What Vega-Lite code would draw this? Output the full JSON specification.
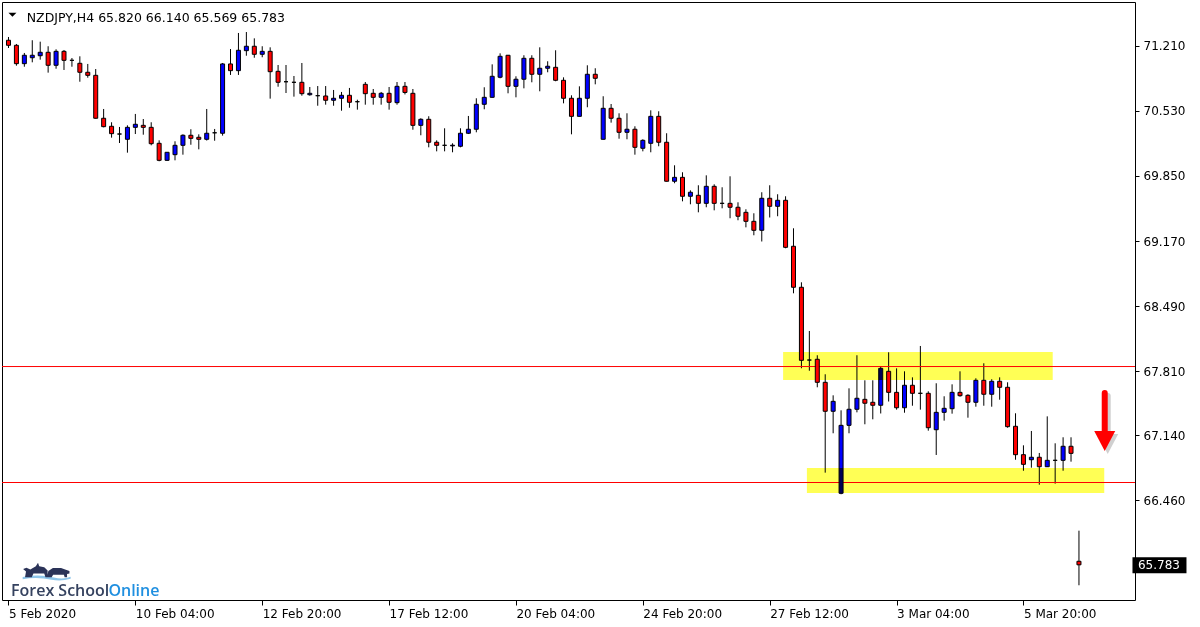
{
  "$schema": "https://vega.github.io/schema/vega-lite/v6.json",
  "width": 1133,
  "height": 598,
  "autosize": {"type": "none"},
  "padding": {"left": 2, "top": 2, "right": 65, "bottom": 27},
  "background": "white",
  "config": {"view": {"stroke": "black", "strokeWidth": 1}, "font": "DejaVu Sans"},
  "datasets": {
    "candles": [
      {"i":0,"o":71.270,"h":71.304,"l":71.189,"c":71.217},
      {"i":1,"o":71.217,"h":71.231,"l":71.004,"c":71.025},
      {"i":2,"o":71.025,"h":71.137,"l":70.993,"c":71.113},
      {"i":3,"o":71.087,"h":71.270,"l":71.039,"c":71.113},
      {"i":4,"o":71.108,"h":71.255,"l":71.067,"c":71.144},
      {"i":5,"o":71.144,"h":71.207,"l":70.931,"c":71.008},
      {"i":6,"o":71.008,"h":71.175,"l":70.972,"c":71.154},
      {"i":7,"o":71.154,"h":71.168,"l":70.959,"c":71.060},
      {"i":8,"o":71.060,"h":71.084,"l":70.993,"c":71.060},
      {"i":9,"o":71.029,"h":71.102,"l":70.836,"c":70.935},
      {"i":10,"o":70.935,"h":71.022,"l":70.878,"c":70.903},
      {"i":11,"o":70.903,"h":70.969,"l":70.450,"c":70.454},
      {"i":12,"o":70.454,"h":70.551,"l":70.359,"c":70.366},
      {"i":13,"o":70.370,"h":70.412,"l":70.251,"c":70.293},
      {"i":14,"o":70.289,"h":70.363,"l":70.195,"c":70.289},
      {"i":15,"o":70.234,"h":70.380,"l":70.094,"c":70.359},
      {"i":16,"o":70.359,"h":70.499,"l":70.289,"c":70.391},
      {"i":17,"o":70.380,"h":70.446,"l":70.282,"c":70.359},
      {"i":18,"o":70.359,"h":70.412,"l":70.171,"c":70.188},
      {"i":19,"o":70.192,"h":70.223,"l":70.004,"c":70.014},
      {"i":20,"o":70.014,"h":70.098,"l":70.009,"c":70.098},
      {"i":21,"o":70.073,"h":70.213,"l":70.014,"c":70.171},
      {"i":22,"o":70.171,"h":70.286,"l":70.073,"c":70.276},
      {"i":23,"o":70.276,"h":70.339,"l":70.177,"c":70.244},
      {"i":24,"o":70.255,"h":70.286,"l":70.129,"c":70.234},
      {"i":25,"o":70.234,"h":70.551,"l":70.221,"c":70.297},
      {"i":26,"o":70.302,"h":70.342,"l":70.219,"c":70.302},
      {"i":27,"o":70.297,"h":71.032,"l":70.272,"c":71.022},
      {"i":28,"o":71.022,"h":71.178,"l":70.907,"c":70.952},
      {"i":29,"o":70.952,"h":71.346,"l":70.907,"c":71.165},
      {"i":30,"o":71.161,"h":71.356,"l":71.108,"c":71.207},
      {"i":31,"o":71.207,"h":71.290,"l":71.087,"c":71.123},
      {"i":32,"o":71.123,"h":71.207,"l":71.092,"c":71.154},
      {"i":33,"o":71.154,"h":71.196,"l":70.659,"c":70.941},
      {"i":34,"o":70.945,"h":71.011,"l":70.784,"c":70.830},
      {"i":35,"o":70.836,"h":71.011,"l":70.718,"c":70.836},
      {"i":36,"o":70.830,"h":70.896,"l":70.680,"c":70.830},
      {"i":37,"o":70.830,"h":71.032,"l":70.690,"c":70.711},
      {"i":38,"o":70.700,"h":70.781,"l":70.690,"c":70.715},
      {"i":39,"o":70.690,"h":70.791,"l":70.585,"c":70.690},
      {"i":40,"o":70.687,"h":70.791,"l":70.596,"c":70.642},
      {"i":41,"o":70.642,"h":70.750,"l":70.585,"c":70.663},
      {"i":42,"o":70.663,"h":70.729,"l":70.533,"c":70.694},
      {"i":43,"o":70.694,"h":70.771,"l":70.564,"c":70.621},
      {"i":44,"o":70.627,"h":70.648,"l":70.544,"c":70.627},
      {"i":45,"o":70.809,"h":70.833,"l":70.596,"c":70.711},
      {"i":46,"o":70.715,"h":70.760,"l":70.596,"c":70.673},
      {"i":47,"o":70.673,"h":70.729,"l":70.596,"c":70.715},
      {"i":48,"o":70.715,"h":70.781,"l":70.544,"c":70.621},
      {"i":49,"o":70.617,"h":70.833,"l":70.596,"c":70.788},
      {"i":50,"o":70.788,"h":70.833,"l":70.703,"c":70.724},
      {"i":51,"o":70.715,"h":70.760,"l":70.334,"c":70.380},
      {"i":52,"o":70.380,"h":70.454,"l":70.276,"c":70.443},
      {"i":53,"o":70.443,"h":70.475,"l":70.150,"c":70.203},
      {"i":54,"o":70.203,"h":70.223,"l":70.108,"c":70.171},
      {"i":55,"o":70.171,"h":70.349,"l":70.108,"c":70.171},
      {"i":56,"o":70.165,"h":70.192,"l":70.098,"c":70.172},
      {"i":57,"o":70.161,"h":70.349,"l":70.150,"c":70.297},
      {"i":58,"o":70.297,"h":70.478,"l":70.289,"c":70.339},
      {"i":59,"o":70.339,"h":70.663,"l":70.307,"c":70.600},
      {"i":60,"o":70.600,"h":70.778,"l":70.548,"c":70.673},
      {"i":61,"o":70.673,"h":71.018,"l":70.671,"c":70.893},
      {"i":62,"o":70.883,"h":71.133,"l":70.872,"c":71.102},
      {"i":63,"o":71.113,"h":71.116,"l":70.715,"c":70.788},
      {"i":64,"o":70.788,"h":70.893,"l":70.673,"c":70.862},
      {"i":65,"o":70.862,"h":71.113,"l":70.767,"c":71.081},
      {"i":66,"o":71.081,"h":71.113,"l":70.830,"c":70.914},
      {"i":67,"o":70.914,"h":71.196,"l":70.736,"c":70.977},
      {"i":68,"o":70.977,"h":71.050,"l":70.935,"c":70.998},
      {"i":69,"o":70.987,"h":71.165,"l":70.841,"c":70.851},
      {"i":70,"o":70.851,"h":70.882,"l":70.610,"c":70.663},
      {"i":71,"o":70.663,"h":70.694,"l":70.286,"c":70.474},
      {"i":72,"o":70.474,"h":70.788,"l":70.472,"c":70.663},
      {"i":73,"o":70.663,"h":71.008,"l":70.569,"c":70.914},
      {"i":74,"o":70.914,"h":70.977,"l":70.809,"c":70.872},
      {"i":75,"o":70.234,"h":70.684,"l":70.232,"c":70.558},
      {"i":76,"o":70.558,"h":70.603,"l":70.408,"c":70.454},
      {"i":77,"o":70.454,"h":70.506,"l":70.240,"c":70.307},
      {"i":78,"o":70.307,"h":70.506,"l":70.234,"c":70.339},
      {"i":79,"o":70.339,"h":70.370,"l":70.073,"c":70.150},
      {"i":80,"o":70.140,"h":70.234,"l":70.108,"c":70.223},
      {"i":81,"o":70.192,"h":70.537,"l":70.098,"c":70.474},
      {"i":82,"o":70.474,"h":70.527,"l":70.161,"c":70.203},
      {"i":83,"o":70.203,"h":70.297,"l":69.793,"c":69.795},
      {"i":84,"o":69.795,"h":69.962,"l":69.774,"c":69.836},
      {"i":85,"o":69.836,"h":69.889,"l":69.585,"c":69.638},
      {"i":86,"o":69.638,"h":69.700,"l":69.554,"c":69.680},
      {"i":87,"o":69.648,"h":69.753,"l":69.470,"c":69.564},
      {"i":88,"o":69.564,"h":69.857,"l":69.523,"c":69.742},
      {"i":89,"o":69.742,"h":69.763,"l":69.491,"c":69.564},
      {"i":90,"o":69.564,"h":69.732,"l":69.512,"c":69.564},
      {"i":91,"o":69.564,"h":69.847,"l":69.408,"c":69.523},
      {"i":92,"o":69.523,"h":69.575,"l":69.387,"c":69.429},
      {"i":93,"o":69.470,"h":69.502,"l":69.313,"c":69.376},
      {"i":94,"o":69.376,"h":69.460,"l":69.230,"c":69.282},
      {"i":95,"o":69.282,"h":69.680,"l":69.165,"c":69.617},
      {"i":96,"o":69.617,"h":69.753,"l":69.416,"c":69.533},
      {"i":97,"o":69.533,"h":69.659,"l":69.429,"c":69.596},
      {"i":98,"o":69.596,"h":69.638,"l":69.094,"c":69.104},
      {"i":99,"o":69.115,"h":69.303,"l":68.623,"c":68.686},
      {"i":100,"o":68.686,"h":68.738,"l":67.839,"c":67.922},
      {"i":101,"o":67.925,"h":68.229,"l":67.813,"c":67.925},
      {"i":102,"o":67.933,"h":67.975,"l":67.640,"c":67.692},
      {"i":103,"o":67.692,"h":67.776,"l":66.747,"c":67.389},
      {"i":104,"o":67.389,"h":67.556,"l":67.159,"c":67.493},
      {"i":105,"o":66.531,"h":67.399,"l":66.521,"c":67.242},
      {"i":106,"o":67.242,"h":67.629,"l":67.159,"c":67.410},
      {"i":107,"o":67.410,"h":67.975,"l":67.378,"c":67.525},
      {"i":108,"o":67.514,"h":67.713,"l":67.253,"c":67.473},
      {"i":109,"o":67.483,"h":67.713,"l":67.305,"c":67.452},
      {"i":110,"o":67.452,"h":67.859,"l":67.366,"c":67.838},
      {"i":111,"o":67.807,"h":68.006,"l":67.491,"c":67.587},
      {"i":112,"o":67.587,"h":67.838,"l":67.406,"c":67.426},
      {"i":113,"o":67.426,"h":67.807,"l":67.374,"c":67.661},
      {"i":114,"o":67.661,"h":67.744,"l":67.447,"c":67.577},
      {"i":115,"o":67.577,"h":68.072,"l":67.406,"c":67.577},
      {"i":116,"o":67.577,"h":67.598,"l":67.186,"c":67.217},
      {"i":117,"o":67.196,"h":67.682,"l":66.932,"c":67.378},
      {"i":118,"o":67.378,"h":67.546,"l":67.291,"c":67.420},
      {"i":119,"o":67.416,"h":67.671,"l":67.364,"c":67.587},
      {"i":120,"o":67.587,"h":67.807,"l":67.541,"c":67.552},
      {"i":121,"o":67.556,"h":67.567,"l":67.322,"c":67.483},
      {"i":122,"o":67.483,"h":67.734,"l":67.437,"c":67.713},
      {"i":123,"o":67.713,"h":67.891,"l":67.447,"c":67.567},
      {"i":124,"o":67.567,"h":67.724,"l":67.437,"c":67.703},
      {"i":125,"o":67.703,"h":67.744,"l":67.510,"c":67.640},
      {"i":126,"o":67.640,"h":67.692,"l":67.217,"c":67.228},
      {"i":127,"o":67.232,"h":67.368,"l":66.882,"c":66.935},
      {"i":128,"o":66.935,"h":67.033,"l":66.767,"c":66.834},
      {"i":129,"o":66.882,"h":67.183,"l":66.799,"c":66.908},
      {"i":130,"o":66.908,"h":66.953,"l":66.621,"c":66.809},
      {"i":131,"o":66.809,"h":67.336,"l":66.806,"c":66.876},
      {"i":132,"o":66.876,"h":67.054,"l":66.632,"c":66.876},
      {"i":133,"o":66.876,"h":67.117,"l":66.767,"c":67.023},
      {"i":134,"o":67.023,"h":67.117,"l":66.862,"c":66.949},
      {"i":135,"o":65.820,"h":66.140,"l":65.569,"c":65.783}
    ],
    "zones": [
      {"x1":97.69,"x2":131.69,"lo":67.716,"hi":68.009},
      {"x1":100.69,"x2":138.19,"lo":66.534,"hi":66.796}
    ],
    "levels": [{"p":67.857},{"p":66.644}],
    "one": [{}]
  },
  "layer": [
    {
      "data": {"name": "candles"},
      "mark": {"type": "rule", "color": "#000000", "strokeWidth": 1},
      "encoding": {
        "x": {"field": "i", "type": "quantitative", "title": null, "scale": {"domain": [-0.1875, 141.4375], "nice": false, "zero": false},
          "axis": {"orient": "bottom", "title": null, "grid": false, "domain": false,
            "values": [0,16,32,48,64,80,96,112,128],
            "labelExpr": "datum.value == 0 ? '5 Feb 2020' : datum.value == 16 ? '10 Feb 04:00' : datum.value == 32 ? '12 Feb 20:00' : datum.value == 48 ? '17 Feb 12:00' : datum.value == 64 ? '20 Feb 04:00' : datum.value == 80 ? '24 Feb 20:00' : datum.value == 96 ? '27 Feb 12:00' : datum.value == 112 ? '3 Mar 04:00' : '5 Mar 20:00'",
            "labelAlign": "left", "labelBaseline": "top", "labelFont": "DejaVu Sans", "labelFontSize": 12, "labelColor": "#000000",
            "tickColor": "#000000", "tickSize": 5, "labelPadding": 3, "labelFlush": false, "labelOverlap": false, "labelBound": false}},
        "y": {"field": "l", "type": "quantitative", "title": null, "scale": {"domain": [65.415, 71.67], "nice": false, "zero": false},
          "axis": {"orient": "right", "title": null, "grid": false, "domain": false,
            "values": [66.46, 67.14, 67.81, 68.49, 69.17, 69.85, 70.53, 71.21],
            "format": ".3f", "labelFont": "DejaVu Sans", "labelFontSize": 12, "labelColor": "#000000",
            "tickColor": "#000000", "tickSize": 4, "labelPadding": 4, "labelBaseline": "middle", "labelFlush": false, "labelOverlap": false}},
        "y2": {"field": "h"}
      }
    },
    {
      "data": {"name": "levels"},
      "mark": {"type": "rule", "color": "#ff0000", "strokeWidth": 1},
      "encoding": {
        "y": {"field": "p", "type": "quantitative", "title": null, "scale": {"domain": [65.415, 71.67], "nice": false, "zero": false}}
      }
    },
    {
      "data": {"name": "candles"},
      "mark": {"type": "bar", "width": 4, "stroke": "#000000", "strokeWidth": 1},
      "encoding": {
        "x": {"field": "i", "type": "quantitative", "title": null, "scale": {"domain": [-0.1875, 141.4375], "nice": false, "zero": false}},
        "y": {"field": "o", "type": "quantitative", "title": null, "scale": {"domain": [65.415, 71.67], "nice": false, "zero": false}},
        "y2": {"field": "c"},
        "fill": {"condition": [{"test": "datum.c > datum.o", "value": "#0000ff"}, {"test": "datum.c < datum.o", "value": "#ff0000"}], "value": "#000000"}
      }
    },
    {
      "data": {"name": "zones"},
      "mark": {"type": "rect", "fill": "#ffff55", "blend": "multiply"},
      "encoding": {
        "x": {"field": "x1", "type": "quantitative", "title": null, "scale": {"domain": [-0.1875, 141.4375], "nice": false, "zero": false}},
        "x2": {"field": "x2"},
        "y": {"field": "lo", "type": "quantitative", "title": null, "scale": {"domain": [65.415, 71.67], "nice": false, "zero": false}},
        "y2": {"field": "hi"}
      }
    },
    {
      "data": {"name": "one"},
      "mark": {"type": "rule", "color": "#b0b0b0", "strokeWidth": 6, "strokeCap": "round", "opacity": 0.6, "xOffset": 3, "yOffset": 3},
      "encoding": {
        "x": {"datum": 138.25, "type": "quantitative", "title": null, "scale": {"domain": [-0.1875, 141.4375], "nice": false, "zero": false}},
        "y": {"datum": 67.58, "type": "quantitative", "title": null, "scale": {"domain": [65.415, 71.67], "nice": false, "zero": false}},
        "y2": {"datum": 67.17}
      }
    },
    {
      "data": {"name": "one"},
      "mark": {"type": "point", "shape": "M-1,-0.95L1,-0.95L0,0.95Z", "size": 441, "filled": true, "color": "#b0b0b0", "opacity": 0.6, "xOffset": 3, "yOffset": 3},
      "encoding": {
        "x": {"datum": 138.25, "type": "quantitative", "title": null, "scale": {"domain": [-0.1875, 141.4375], "nice": false, "zero": false}},
        "y": {"datum": 67.078, "type": "quantitative", "title": null, "scale": {"domain": [65.415, 71.67], "nice": false, "zero": false}}
      }
    },
    {
      "data": {"name": "one"},
      "mark": {"type": "rule", "color": "#ff0000", "strokeWidth": 6, "strokeCap": "round"},
      "encoding": {
        "x": {"datum": 138.25, "type": "quantitative", "title": null, "scale": {"domain": [-0.1875, 141.4375], "nice": false, "zero": false}},
        "y": {"datum": 67.58, "type": "quantitative", "title": null, "scale": {"domain": [65.415, 71.67], "nice": false, "zero": false}},
        "y2": {"datum": 67.17}
      }
    },
    {
      "data": {"name": "one"},
      "mark": {"type": "point", "shape": "M-1,-0.95L1,-0.95L0,0.95Z", "size": 441, "filled": true, "color": "#ff0000", "opacity": 1},
      "encoding": {
        "x": {"datum": 138.25, "type": "quantitative", "title": null, "scale": {"domain": [-0.1875, 141.4375], "nice": false, "zero": false}},
        "y": {"datum": 67.078, "type": "quantitative", "title": null, "scale": {"domain": [65.415, 71.67], "nice": false, "zero": false}}
      }
    },
    {
      "data": {"name": "one"},
      "mark": {"type": "point", "shape": "M-1,-0.5L1,-0.5L0,0.5Z", "size": 64, "filled": true, "color": "#000000", "opacity": 1},
      "encoding": {
        "x": {"datum": 0.5, "type": "quantitative", "title": null, "scale": {"domain": [-0.1875, 141.4375], "nice": false, "zero": false}},
        "y": {"datum": 71.537, "type": "quantitative", "title": null, "scale": {"domain": [65.415, 71.67], "nice": false, "zero": false}}
      }
    },
    {
      "data": {"name": "one"},
      "mark": {"type": "text", "text": "NZDJPY,H4  65.820 66.140 65.569 65.783", "align": "left", "baseline": "alphabetic", "font": "DejaVu Sans", "fontSize": 12.5, "color": "#000000"},
      "encoding": {
        "x": {"datum": 2.3, "type": "quantitative", "title": null, "scale": {"domain": [-0.1875, 141.4375], "nice": false, "zero": false}},
        "y": {"datum": 71.461, "type": "quantitative", "title": null, "scale": {"domain": [65.415, 71.67], "nice": false, "zero": false}}
      }
    },
    {
      "data": {"name": "one"},
      "mark": {"type": "point", "shape": "M-1.0,0.25Q-0.3,0.12,0.3,0.27Q0.7,0.36,1.0,0.24L1.0,0.32Q0.6,0.44,0.2,0.36Q-0.4,0.24,-1.0,0.34Z", "size": 2304, "filled": true, "color": "#8ec5ea", "opacity": 1},
      "encoding": {
        "x": {"datum": 4.8125, "type": "quantitative", "title": null, "scale": {"domain": [-0.1875, 141.4375], "nice": false, "zero": false}},
        "y": {"datum": 65.718, "type": "quantitative", "title": null, "scale": {"domain": [65.415, 71.67], "nice": false, "zero": false}}
      }
    },
    {
      "data": {"name": "one"},
      "mark": {"type": "point", "shape": "M-0.9,0.26L-0.86,0.02L-0.98,-0.08L-0.84,-0.14L-0.68,-0.06L-0.45,-0.2L-0.36,-0.34L-0.31,-0.2L-0.1,-0.16L0.04,-0.02L0.04,0.26L-0.05,0.26L-0.1,0.1L-0.55,0.1L-0.62,0.26ZM0.02,0.26L0.07,0.0L0.26,-0.13L0.6,-0.13L0.8,-0.05L0.95,0.0L0.95,0.1L0.85,0.12L0.85,0.26L0.75,0.26L0.72,0.15L0.27,0.15L0.21,0.26Z", "size": 2304, "filled": true, "color": "#2b3358", "opacity": 1},
      "encoding": {
        "x": {"datum": 4.8125, "type": "quantitative", "title": null, "scale": {"domain": [-0.1875, 141.4375], "nice": false, "zero": false}},
        "y": {"datum": 65.718, "type": "quantitative", "title": null, "scale": {"domain": [65.415, 71.67], "nice": false, "zero": false}}
      }
    },
    {
      "data": {"name": "one"},
      "mark": {"type": "text", "text": "Forex School", "align": "left", "baseline": "alphabetic", "font": "Open Sans", "fontWeight": 600, "fontSize": 16, "color": "#35425f"},
      "encoding": {
        "x": {"datum": 0.3125, "type": "quantitative", "title": null, "scale": {"domain": [-0.1875, 141.4375], "nice": false, "zero": false}},
        "y": {"datum": 65.457, "type": "quantitative", "title": null, "scale": {"domain": [65.415, 71.67], "nice": false, "zero": false}}
      }
    },
    {
      "data": {"name": "one"},
      "mark": {"type": "text", "text": "Online", "align": "left", "baseline": "alphabetic", "font": "Open Sans", "fontWeight": 600, "fontSize": 16, "color": "#1f8fe0"},
      "encoding": {
        "x": {"datum": 12.6, "type": "quantitative", "title": null, "scale": {"domain": [-0.1875, 141.4375], "nice": false, "zero": false}},
        "y": {"datum": 65.457, "type": "quantitative", "title": null, "scale": {"domain": [65.415, 71.67], "nice": false, "zero": false}}
      }
    },
    {
      "data": {"name": "one"},
      "mark": {"type": "rect", "fill": "#000000"},
      "encoding": {
        "x": {"datum": 141.75, "type": "quantitative", "title": null, "scale": {"domain": [-0.1875, 141.4375], "nice": false, "zero": false}},
        "x2": {"datum": 148.56},
        "y": {"datum": 65.861, "type": "quantitative", "title": null, "scale": {"domain": [65.415, 71.67], "nice": false, "zero": false}},
        "y2": {"datum": 65.694}
      }
    },
    {
      "data": {"name": "one"},
      "mark": {"type": "text", "text": "65.783", "align": "left", "baseline": "middle", "font": "DejaVu Sans", "fontSize": 12, "color": "#ffffff"},
      "encoding": {
        "x": {"datum": 142.44, "type": "quantitative", "title": null, "scale": {"domain": [-0.1875, 141.4375], "nice": false, "zero": false}},
        "y": {"datum": 65.783, "type": "quantitative", "title": null, "scale": {"domain": [65.415, 71.67], "nice": false, "zero": false}}
      }
    }
  ]
}
